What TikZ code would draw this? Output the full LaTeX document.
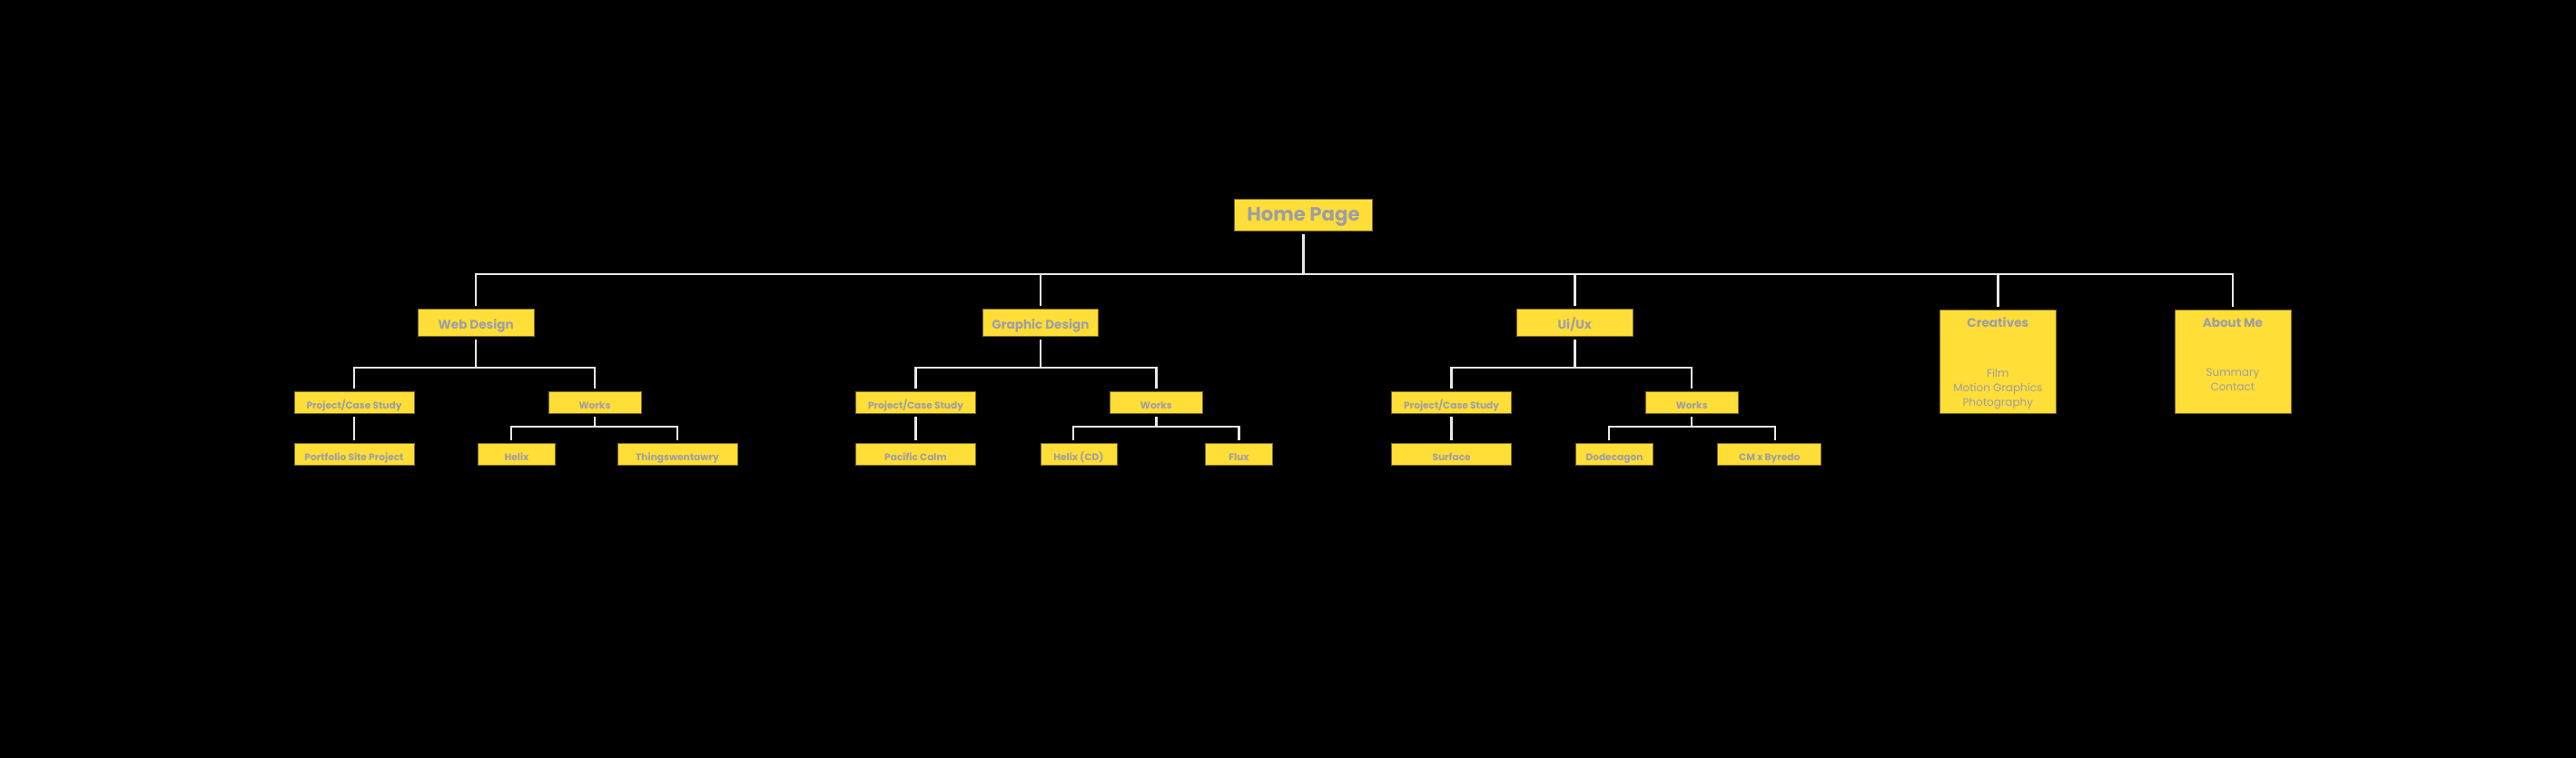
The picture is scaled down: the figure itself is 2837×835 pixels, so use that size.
\documentclass[tikz,border=0pt]{standalone}
\usepackage{fontspec}
\setmainfont{Poppins}
\definecolor{boxyellow}{HTML}{FFDE37}
\definecolor{boxedge}{HTML}{7A6A20}
\definecolor{textgrey}{HTML}{9E9EA6}
\definecolor{linegrey}{HTML}{E8E8E8}
\begin{document}
\begin{tikzpicture}[x=0.5pt,y=-0.5pt,
  box/.style={fill=boxyellow, draw=boxedge, line width=0.4pt, inner sep=0pt,
    text=textgrey, text height=0.7em, text depth=0pt},
  lvlzero/.style={box, minimum width=76pt, minimum height=17.5pt, font=\bfseries\fontsize{10.6}{13}\selectfont},
  lvlone/.style={box, minimum height=15pt, font=\bfseries\fontsize{6.8}{9}\selectfont},
  lvltwo/.style={box, minimum height=12pt, font=\bfseries\fontsize{5.3}{7}\selectfont},
  tall/.style={box, minimum height=57pt, minimum width=64pt},
  title/.style={inner sep=0pt, text=textgrey, text height=0.7em, text depth=0pt, font=\bfseries\fontsize{6.8}{9}\selectfont},
  sublist/.style={inner sep=0pt, text=textgrey, align=center, font=\fontsize{6}{8}\selectfont},
  conn/.style={draw=linegrey, line width=1.25pt, shorten <=2pt, shorten >=1.5pt}
]
\fill[black] (0,0) rectangle (2837,835);
\useasboundingbox (0,0) rectangle (2837,835);

% buses
\coordinate (bus0) at (0,302);
\coordinate (busone) at (0,405);
\coordinate (bustwo) at (0,470);

% root
\node[lvlzero] (home) at (1435.5,236.5) {Home Page};

% level 1
\node[lvlone, minimum width=64pt] (web) at (524.2,355) {Web Design};
\node[lvlone, minimum width=63.5pt] (gd) at (1146,355) {Graphic Design};
\node[lvlone, minimum width=64pt] (ui) at (1734.3,355) {Ui/Ux};
\node[tall] (cre) at (2200.3,398) {};
\node[tall] (about) at (2458.9,398) {};
\node[title] (cret) at (2200.3,353.7) {Creatives};
\node[title] (aboutt) at (2458.9,353.7) {About Me};
\node[sublist, anchor=north] (cres) at (2200.3,405.5) {Film\\Motion Graphics\\Photography};
\node[sublist, anchor=north] (abouts) at (2458.9,405.5) {Summary\\Contact};

% level 2 - web
\node[lvltwo, minimum width=66pt] (wpcs) at (390,443) {Project/Case Study};
\node[lvltwo, minimum width=51pt] (wworks) at (655,443) {Works};
\node[lvltwo, minimum width=66pt] (wport) at (390,500) {Portfolio Site Project};
\node[lvltwo, minimum width=42.5pt] (whelix) at (569,500) {Helix};
\node[lvltwo, minimum width=66pt] (wthings) at (746,500) {Thingswentawry};

% level 2 - graphic
\node[lvltwo, minimum width=66pt] (gpcs) at (1008.5,443) {Project/Case Study};
\node[lvltwo, minimum width=51pt] (gworks) at (1273.3,443) {Works};
\node[lvltwo, minimum width=66pt] (gpac) at (1008.5,500) {Pacific Calm};
\node[lvltwo, minimum width=42pt] (ghelix) at (1187.9,500) {Helix (CD)};
\node[lvltwo, minimum width=37pt] (gflux) at (1364.5,500) {Flux};

% level 2 - ui
\node[lvltwo, minimum width=66pt] (upcs) at (1598.6,443) {Project/Case Study};
\node[lvltwo, minimum width=51pt] (uworks) at (1863.2,443) {Works};
\node[lvltwo, minimum width=66pt] (usurf) at (1598.6,500) {Surface};
\node[lvltwo, minimum width=42.3pt] (udode) at (1778,500) {Dodecagon};
\node[lvltwo, minimum width=57pt] (ucm) at (1948.8,500) {CM x Byredo};

% connectors root
\foreach \c in {web,gd,ui,cre,about}
  \draw[conn] (home.south) -- (home.south |- bus0) -| (\c.north);

% web
\draw[conn] (web.south) -- (web.south |- busone) -| (wpcs.north);
\draw[conn] (web.south) -- (web.south |- busone) -| (wworks.north);
\draw[conn] (wpcs.south) -- (wport.north);
\draw[conn] (wworks.south) -- (wworks.south |- bustwo) -| ([xshift=-3pt]whelix.north);
\draw[conn] (wworks.south) -- (wworks.south |- bustwo) -| (wthings.north);

% graphic
\draw[conn] (gd.south) -- (gd.south |- busone) -| (gpcs.north);
\draw[conn] (gd.south) -- (gd.south |- busone) -| (gworks.north);
\draw[conn] (gpcs.south) -- (gpac.north);
\draw[conn] (gworks.south) -- (gworks.south |- bustwo) -| ([xshift=-3pt]ghelix.north);
\draw[conn] (gworks.south) -- (gworks.south |- bustwo) -| (gflux.north);

% ui
\draw[conn] (ui.south) -- (ui.south |- busone) -| (upcs.north);
\draw[conn] (ui.south) -- (ui.south |- busone) -| (uworks.north);
\draw[conn] (upcs.south) -- (usurf.north);
\draw[conn] (uworks.south) -- (uworks.south |- bustwo) -| ([xshift=-3pt]udode.north);
\draw[conn] (uworks.south) -- (uworks.south |- bustwo) -| ([xshift=3pt]ucm.north);
\end{tikzpicture}
\end{document}
